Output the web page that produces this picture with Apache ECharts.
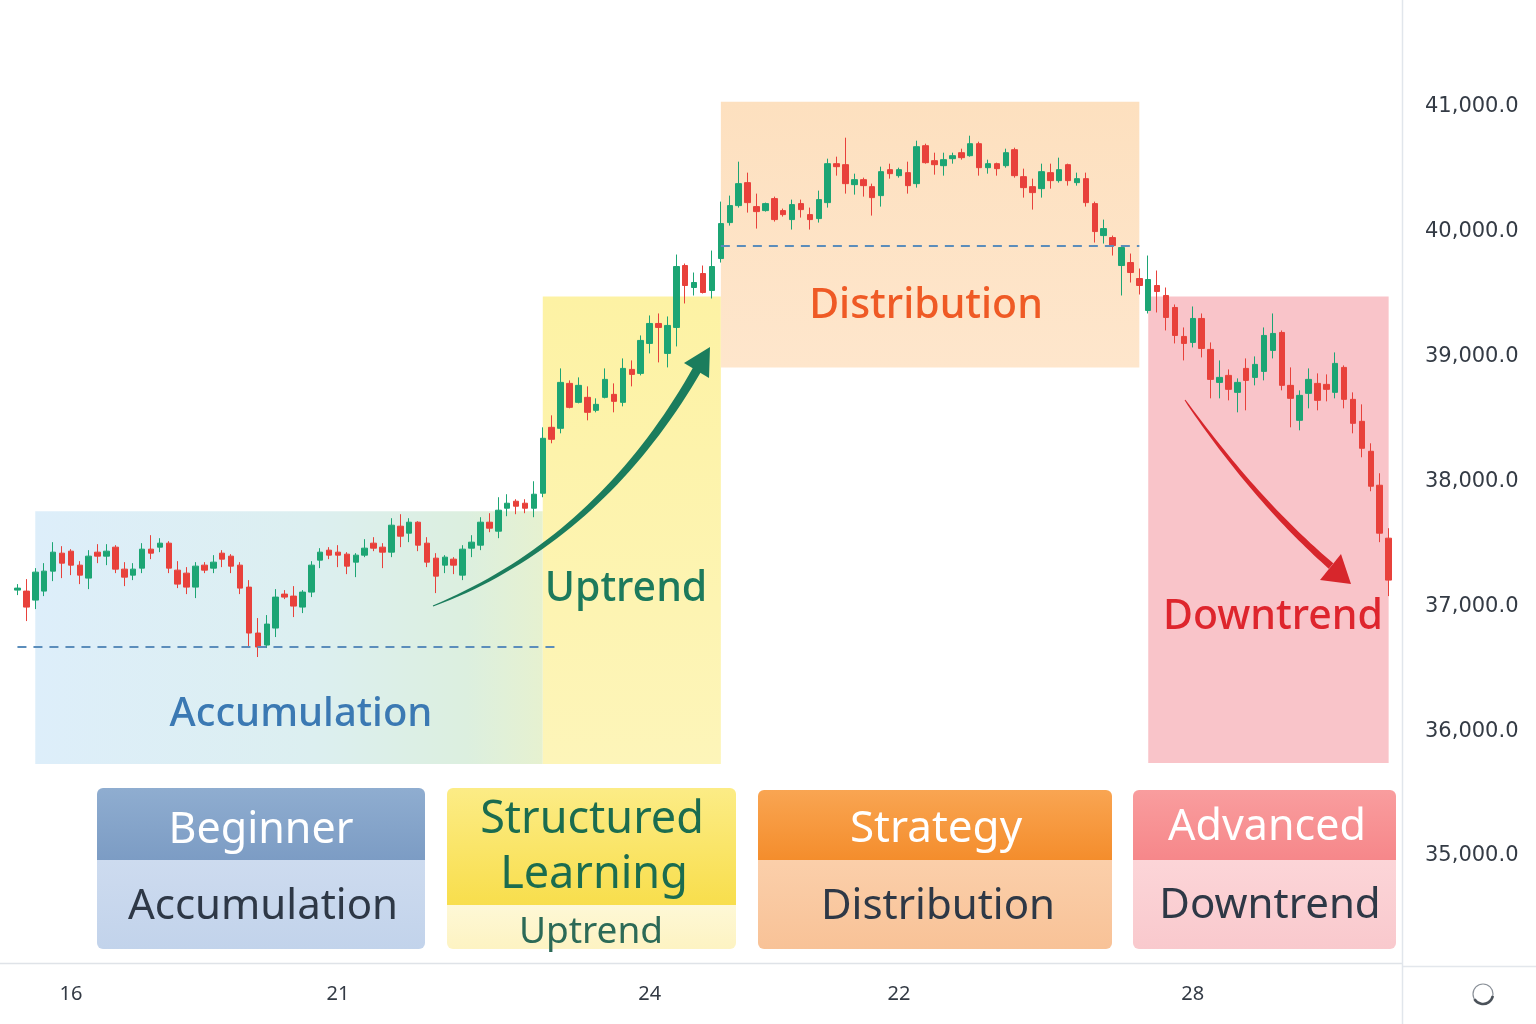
<!DOCTYPE html>
<html>
<head>
<meta charset="utf-8">
<title>Market cycle phases</title>
<script src="https://cdn.jsdelivr.net/npm/echarts@6/dist/echarts.min.js"></script>
<style>
  html, body { margin: 0; padding: 0; background: #ffffff; }
  #chart { width: 1536px; height: 1024px; }
</style>
</head>
<body>
<div id="chart"></div>
<script>
// candle values, in order
var openPrices = [
  37130, 37122, 37050, 37122, 37282, 37426, 37442, 37330, 37226, 37434,
  37402, 37474, 37298, 37250, 37306, 37458, 37474, 37506, 37290, 37266,
  37154, 37330, 37306, 37426, 37402, 37330, 37154, 36786, 36690, 36826,
  37098, 37082, 36994, 37114, 37370, 37450, 37434, 37418, 37354, 37410,
  37506, 37474, 37434, 37642, 37586, 37674, 37506, 37386, 37330, 37378,
  37250, 37466, 37490, 37674, 37602, 37786, 37842, 37826, 37786, 37906,
  38434, 38426, 38786, 38634, 38674, 38570, 38674, 38698, 38634, 38898,
  38866, 39106, 39266, 39026, 39234, 39730, 39554, 39666, 39530, 39786,
  40074, 40210, 40394, 40202, 40170, 40266, 40170, 40098, 40226, 40138,
  40106, 40234, 40546, 40538, 40378, 40418, 40362, 40290, 40498, 40450,
  40474, 40386, 40690, 40570, 40530, 40586, 40634, 40610, 40706, 40514,
  40546, 40530, 40658, 40442, 40362, 40346, 40474, 40410, 40538, 40394,
  40426, 40226, 39970, 39954, 39730, 39754, 39626, 39370, 39570, 39490,
  39394, 39162, 39114, 39306, 39058, 38794, 38850, 38714, 38906, 38834,
  38882, 39050, 39194, 38770, 38490, 38706, 38786, 38778, 38714, 38914,
  38658, 38482, 38242, 37970, 37546
];
var closePrices = [
  37146, 36994, 37274, 37282, 37434, 37346, 37330, 37250, 37402, 37402,
  37442, 37298, 37234, 37298, 37458, 37426, 37506, 37306, 37178, 37154,
  37322, 37290, 37354, 37378, 37322, 37146, 36786, 36674, 36858, 37074,
  37074, 37002, 37114, 37330, 37434, 37410, 37410, 37322, 37410, 37466,
  37466, 37434, 37650, 37562, 37674, 37490, 37354, 37242, 37394, 37330,
  37458, 37514, 37674, 37626, 37770, 37826, 37802, 37786, 37898, 38346,
  38338, 38794, 38594, 38770, 38554, 38618, 38818, 38642, 38906, 38858,
  39130, 39266, 39234, 39250, 39722, 39570, 39594, 39514, 39722, 40066,
  40210, 40386, 40234, 40162, 40226, 40098, 40138, 40218, 40178, 40098,
  40258, 40546, 40522, 40386, 40418, 40370, 40274, 40482, 40466, 40498,
  40370, 40682, 40554, 40538, 40578, 40610, 40594, 40706, 40514, 40546,
  40506, 40634, 40450, 40354, 40314, 40482, 40410, 40498, 40410, 40426,
  40234, 40002, 40026, 39890, 39874, 39674, 39570, 39618, 39522, 39314,
  39170, 39106, 39306, 39066, 38818, 38834, 38738, 38794, 38810, 38938,
  39170, 39186, 38770, 38666, 38690, 38818, 38650, 38738, 38946, 38658,
  38466, 38266, 37962, 37586, 37210
];
var lowPrices = [
  37090, 36882, 36978, 37082, 37202, 37226, 37250, 37178, 37138, 37346,
  37330, 37266, 37162, 37210, 37266, 37378, 37434, 37266, 37146, 37098,
  37066, 37266, 37266, 37314, 37266, 37098, 36682, 36594, 36666, 36754,
  37058, 36914, 36946, 37074, 37306, 37378, 37314, 37258, 37234, 37394,
  37442, 37306, 37394, 37474, 37514, 37442, 37314, 37106, 37266, 37258,
  37210, 37394, 37450, 37594, 37546, 37722, 37738, 37746, 37714, 37874,
  38306, 38386, 38586, 38626, 38490, 38554, 38666, 38554, 38602, 38762,
  38850, 39026, 38954, 38914, 39082, 39426, 39490, 39506, 39466, 39754,
  40050, 40194, 40154, 40026, 40162, 40082, 40122, 40018, 40114, 40018,
  40074, 40194, 40450, 40306, 40298, 40282, 40130, 40202, 40426, 40434,
  40306, 40354, 40546, 40458, 40450, 40546, 40578, 40602, 40450, 40466,
  40450, 40514, 40434, 40274, 40178, 40274, 40346, 40394, 40370, 40370,
  40202, 39914, 39906, 39810, 39490, 39594, 39498, 39346, 39354, 39210,
  39106, 38970, 39074, 38994, 38666, 38666, 38650, 38554, 38570, 38770,
  38810, 38986, 38730, 38434, 38410, 38586, 38570, 38642, 38666, 38586,
  38386, 38194, 37922, 37514, 37082
];
var highPrices = [
  37178, 37218, 37306, 37346, 37514, 37482, 37458, 37362, 37450, 37498,
  37498, 37490, 37354, 37346, 37506, 37570, 37546, 37522, 37362, 37314,
  37354, 37354, 37410, 37450, 37418, 37354, 37210, 36906, 36930, 37138,
  37130, 37162, 37130, 37362, 37466, 37474, 37490, 37434, 37426, 37538,
  37554, 37506, 37706, 37738, 37706, 37682, 37554, 37426, 37410, 37394,
  37490, 37570, 37714, 37746, 37874, 37898, 37858, 37858, 38002, 38434,
  38530, 38906, 38810, 38834, 38762, 38666, 38906, 38786, 38986, 38970,
  39170, 39330, 39346, 39322, 39818, 39746, 39674, 39730, 39850, 40242,
  40290, 40562, 40474, 40306, 40234, 40282, 40186, 40258, 40258, 40194,
  40330, 40586, 40602, 40754, 40466, 40434, 40386, 40522, 40546, 40514,
  40562, 40730, 40706, 40634, 40634, 40634, 40666, 40770, 40722, 40578,
  40554, 40666, 40674, 40506, 40426, 40546, 40546, 40594, 40546, 40474,
  40474, 40242, 40098, 39970, 39890, 39826, 39706, 39810, 39690, 39554,
  39418, 39234, 39402, 39346, 39114, 38970, 38898, 38826, 38986, 39002,
  39234, 39346, 39210, 38914, 38730, 38906, 38866, 38858, 39034, 38930,
  38714, 38618, 38306, 38066, 37626
];

// x-axis tick labels and where they sit (candle index)
var tickPositions = [6, 36, 71, 99, 132];
var tickLabels = ['16', '21', '24', '22', '28'];

// phase zones: start/end candle index, top/bottom price
var phaseNames = ['Accumulation', 'Uptrend', 'Distribution', 'Downtrend'];
var phaseStart = [2, 59, 79, 127];
var phaseEnd = [59, 79, 126, 154];
var phaseTop = [37762, 39482, 41042, 39482];
var phaseBottom = [35738, 35738, 38914, 35746];

// dashed support / resistance levels
var levelStart = [0, 79];
var levelEnd = [61, 126];
var levelPrice = [36674, 39890];

var LG = echarts.graphic.LinearGradient;
var FONT = '"Noto Sans", "Open Sans", sans-serif';

var categories = [];
for (var i = 0; i <= openPrices.length; i++) categories.push(String(i));

var candles = openPrices.map(function (o, i) {
    return [o, closePrices[i], lowPrices[i], highPrices[i]];
});

var zoneFills = [
    new LG(0, 0, 1, 0, [
        { offset: 0, color: '#ddeefa' },
        { offset: 0.55, color: '#dceff0' },
        { offset: 0.85, color: '#dcefdf' },
        { offset: 1, color: '#e6f1d0' }
    ]),
    new LG(0, 0, 0, 1, [
        { offset: 0, color: '#fdf2a4' },
        { offset: 1, color: '#fdf5b9' }
    ]),
    new LG(0, 0, 0, 1, [
        { offset: 0, color: '#fde0bf' },
        { offset: 1, color: '#fee6cc' }
    ]),
    '#f9c4c9'
];

var zones = phaseNames.map(function (name, k) {
    return [
        { name: name, xAxis: phaseStart[k], yAxis: phaseTop[k], itemStyle: { color: zoneFills[k] } },
        { xAxis: phaseEnd[k], yAxis: phaseBottom[k] }
    ];
});

var levels = levelPrice.map(function (p, k) {
    return [{ coord: [levelStart[k], p] }, { coord: [levelEnd[k], p] }];
});

function priceLabel(v) {
    var s = Math.round(v).toString().replace(/\B(?=(\d{3})+(?!\d))/g, ',');
    return s + '.0';
}

function txt(text, x, y, color, size, weight) {
    return {
        type: 'text', z: 50,
        style: {
            text: text, x: x, y: y + 3, fill: color,
            font: (weight || 'normal') + ' ' + size + 'px ' + FONT,
            textAlign: 'center', textVerticalAlign: 'middle',
            align: 'center', verticalAlign: 'middle'
        }
    };
}

function card(x, w, top, split, bottom, head, body) {
    return [
        {
            type: 'rect', z: 40,
            shape: { x: x, y: top, width: w, height: split - top, r: [6, 6, 0, 0] },
            style: { fill: new LG(0, 0, 0, 1, [{ offset: 0, color: head[0] }, { offset: 1, color: head[1] }]) }
        },
        {
            type: 'rect', z: 40,
            shape: { x: x, y: split, width: w, height: bottom - split, r: [0, 0, 6, 6] },
            style: { fill: new LG(0, 0, 0, 1, [{ offset: 0, color: body[0] }, { offset: 1, color: body[1] }]) }
        }
    ];
}

// tapered arrow body along a quadratic curve (start -> control -> end)
function ribbon(s, c, e, w0, w1) {
    var left = [], right = [];
    for (var n = 0; n <= 40; n++) {
        var t = n / 40, u = 1 - t;
        var px = u * u * s[0] + 2 * u * t * c[0] + t * t * e[0];
        var py = u * u * s[1] + 2 * u * t * c[1] + t * t * e[1];
        var dx = 2 * u * (c[0] - s[0]) + 2 * t * (e[0] - c[0]);
        var dy = 2 * u * (c[1] - s[1]) + 2 * t * (e[1] - c[1]);
        var len = Math.sqrt(dx * dx + dy * dy);
        var hw = (w0 + (w1 - w0) * Math.pow(t, 0.7)) / 2;
        var nx = -dy / len * hw, ny = dx / len * hw;
        left.push([px + nx, py + ny]);
        right.unshift([px - nx, py - ny]);
    }
    return left.concat(right);
}

var graphics = [];
graphics = graphics.concat(
    card(97, 328, 788, 860, 949, ['#8fadd0', '#7c9cc4'], ['#cddbef', '#c2d3eb']),
    card(447, 289, 788, 905, 949, ['#fcec86', '#f8de4c'], ['#fef8d6', '#fdf3c2']),
    card(758, 354, 790, 860, 949, ['#f9a552', '#f48d2c'], ['#fbcfaa', '#f8c297']),
    card(1133, 263, 790, 860, 949, ['#f99d9e', '#f6878a'], ['#fcd5d8', '#f9c9cd'])
);

graphics.push(
    txt('Beginner', 261, 828, '#ffffff', 43),
    txt('Accumulation', 263, 904, '#2e3846', 42),
    txt('Structured', 592, 817, '#1b6c4f', 45),
    txt('Learning', 594, 872, '#1b6c4f', 45),
    txt('Uptrend', 591, 929, '#2c6a57', 37),
    txt('Strategy', 936, 826, '#ffffff', 44),
    txt('Distribution', 938, 904, '#2e3846', 42),
    txt('Advanced', 1267, 825, '#ffffff', 43),
    txt('Downtrend', 1270, 903, '#2e3846', 42),
    txt('Accumulation', 301, 712, '#3b79b3', 40, 500),
    txt('Uptrend', 626, 586, '#1d7a5c', 41, 500),
    txt('Distribution', 926, 303, '#ef5a25', 41, 500),
    txt('Downtrend', 1273, 614, '#de252d', 41, 500)
);

// trend arrows
graphics.push(
    {
        type: 'polygon', z: 45,
        shape: { points: ribbon([433, 606], [600, 540], [698, 368], 1, 9) },
        style: { fill: '#1b7d5d' }
    },
    {
        type: 'polygon', z: 45,
        shape: { points: [[710, 347], [709, 378], [684, 363]] },
        style: { fill: '#1b7d5d' }
    },
    {
        type: 'polygon', z: 45,
        shape: { points: ribbon([1185, 400], [1255, 500], [1331, 566], 1, 7) },
        style: { fill: '#d7262c' }
    },
    {
        type: 'polygon', z: 45,
        shape: { points: [[1351, 584], [1341, 554], [1320, 580]] },
        style: { fill: '#d7262c' }
    }
);

// frame lines and the corner icon
graphics.push(
    { type: 'line', z: 30, shape: { x1: 0, y1: 963.5, x2: 1402, y2: 963.5 }, style: { stroke: '#dfe3e8', lineWidth: 1.5 } },
    { type: 'line', z: 30, shape: { x1: 1402, y1: 966.5, x2: 1536, y2: 966.5 }, style: { stroke: '#e3e7ec', lineWidth: 1.5 } },
    { type: 'line', z: 30, shape: { x1: 1402.5, y1: 0, x2: 1402.5, y2: 1024 }, style: { stroke: '#e1e6ec', lineWidth: 1.5 } },
    { type: 'circle', z: 30, shape: { cx: 1483, cy: 994, r: 10 }, style: { fill: 'none', stroke: '#8a9098', lineWidth: 1.2 } },
    { type: 'arc', z: 31, shape: { cx: 1483, cy: 994, r: 10, startAngle: 0.2, endAngle: 2.6 }, style: { fill: 'none', stroke: '#4b525a', lineWidth: 2.6 } }
);

var chart = echarts.init(document.getElementById('chart'));

chart.setOption({
    backgroundColor: '#ffffff',
    animation: false,
    grid: { left: 13, right: 134, top: 0, bottom: 61 },
    xAxis: {
        type: 'category',
        data: categories,
        boundaryGap: true,
        axisLine: { show: false },
        axisTick: { show: false },
        splitLine: { show: false },
        axisLabel: {
            margin: 21,
            color: '#333a44',
            fontSize: 20,
            fontFamily: FONT,
            interval: function (index) { return tickPositions.indexOf(index) >= 0; },
            formatter: function (val, index) {
                var k = tickPositions.indexOf(index);
                return k >= 0 ? tickLabels[k] : '';
            }
        }
    },
    yAxis: {
        type: 'value',
        position: 'right',
        min: 34143,
        max: 41857,
        splitNumber: 8,
        scale: true,
        axisLine: { show: false },
        axisTick: { show: false },
        splitLine: { show: false },
        axisLabel: {
            margin: 23,
            color: '#343b45',
            fontSize: 21,
            fontFamily: '"DejaVu Sans", "Noto Sans", sans-serif',
            padding: [6, 0, 0, 0],
            showMinLabel: false,
            showMaxLabel: false,
            formatter: priceLabel
        }
    },
    series: [{
        type: 'candlestick',
        data: candles,
        barWidth: 6,
        itemStyle: {
            color: '#1ca574',
            color0: '#e8413b',
            borderColor: '#1ca574',
            borderColor0: '#e8413b',
            borderWidth: 1
        },
        markArea: {
            silent: true,
            label: { show: false },
            data: zones
        },
        markLine: {
            silent: true,
            symbol: ['none', 'none'],
            label: { show: false },
            lineStyle: { type: [9, 7], color: '#5b8dbb', width: 2 },
            data: levels
        }
    }],
    graphic: { elements: graphics }
});
</script>
</body>
</html>
